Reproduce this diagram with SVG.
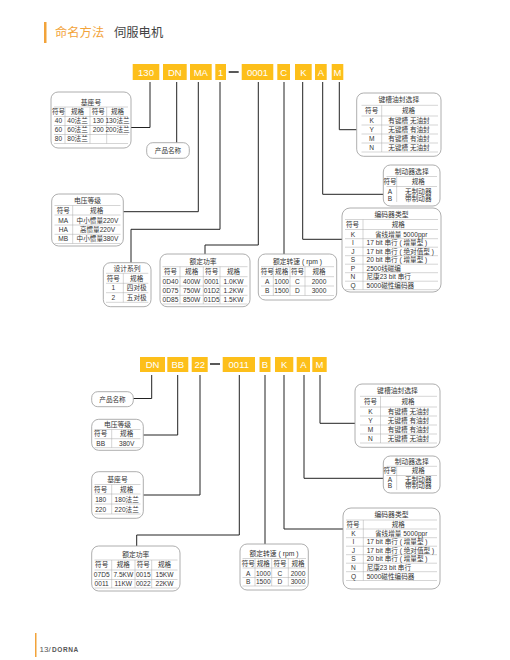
<svg xmlns="http://www.w3.org/2000/svg" width="510" height="660" viewBox="0 0 510 660">
<style>
text{font-family:"Liberation Sans","Noto Sans CJK SC",sans-serif}
.bx{fill:#fff;stroke:#999;stroke-width:0.8}
.gl{stroke:#aaa;stroke-width:0.5;fill:none}
.t{font-size:6.6px;fill:#333;text-anchor:middle}
.tl{font-size:6.6px;fill:#333;text-anchor:start}
.hd{font-size:6.8px;fill:#333;text-anchor:middle}
.cb{fill:#FDBF1A}
.ct{font-size:9.5px;fill:#fff;text-anchor:middle}
.ln{stroke:#222;stroke-width:1;fill:none}
</style>
<rect width="510" height="660" fill="#fff"/>
<g id="header">
<rect x="44" y="22" width="2.5" height="21" fill="#F2A33A"/>
<text x="55" y="37" style="font-size:12.3px;fill:#F2A33A">命名方法</text>
<text x="114" y="37" style="font-size:12.3px;fill:#444">伺服电机</text>
</g>

<!-- TOP CODE ROW -->
<g id="code-top">
<rect class="cb" x="132.7" y="64" width="26.6" height="16"/><text class="ct" x="146" y="75.5">130</text>
<rect class="cb" x="163" y="64" width="23.7" height="16"/><text class="ct" x="174.8" y="75.5">DN</text>
<rect class="cb" x="190" y="64" width="21.7" height="16"/><text class="ct" x="200.8" y="75.5">MA</text>
<rect class="cb" x="215.3" y="64" width="10.7" height="16"/><text class="ct" x="220.7" y="75.5">1</text>
<line x1="228.7" y1="72" x2="238.7" y2="72" stroke="#222" stroke-width="1.5"/>
<rect class="cb" x="241.7" y="64" width="31.6" height="16"/><text class="ct" x="257.5" y="75.5">0001</text>
<rect class="cb" x="277.3" y="64" width="12.7" height="16"/><text class="ct" x="283.7" y="75.5">C</text>
<rect class="cb" x="295" y="64" width="16.7" height="16"/><text class="ct" x="303.3" y="75.5">K</text>
<rect class="cb" x="315" y="64" width="11.7" height="16"/><text class="ct" x="320.8" y="75.5">A</text>
<rect class="cb" x="331.7" y="64" width="11.6" height="16"/><text class="ct" x="337.5" y="75.5">M</text>
</g>

<g id="connectors">
<!-- top -->
<polyline class="ln" points="150,82 150,127.5 131,127.5"/>
<polyline class="ln" points="176.7,82 176.7,142.7"/>
<polyline class="ln" points="198.3,82 198.3,211.7 123.3,211.7"/>
<polyline class="ln" points="220,82 220,229.3 131,229.3 131,262.7"/>
<polyline class="ln" points="258.3,82 258.3,245 205,245 205,254"/>
<polyline class="ln" points="284,82 284,254"/>
<polyline class="ln" points="302.7,82 302.7,239.3 342,239.3"/>
<polyline class="ln" points="322.7,82 322.7,194.3 383.3,194.3"/>
<polyline class="ln" points="339.3,82 339.3,129.7 356.7,129.7"/>
<!-- bottom -->
<polyline class="ln" points="151.7,375 151.7,398.5 133.3,398.5"/>
<polyline class="ln" points="177.7,375 177.7,435 143.3,435"/>
<polyline class="ln" points="200,375 200,495 143.3,495"/>
<polyline class="ln" points="239.3,375 239.3,535 136.7,535 136.7,546"/>
<polyline class="ln" points="265,375 265,544"/>
<polyline class="ln" points="284,375 284,529 343,529"/>
<polyline class="ln" points="304,375 304,478.3 383.3,478.3"/>
<polyline class="ln" points="320,375 320,423.3 355,423.3"/>
</g>

<!-- 基座号 top -->
<g id="base-top">
<rect class="bx" x="51" y="92" width="80" height="56" rx="7"/>
<text class="hd" x="91" y="105">基座号</text>
<path class="gl" d="M54,107H128M54,116.5H128M54,125.5H128M54,134.5H128M54,143.5H128M65,107V143.5M90,107V143.5M106.7,107V143.5"/>
<text class="t" x="58.5" y="114.3">符号</text><text class="t" x="77.5" y="114.3">规格</text><text class="t" x="98.3" y="114.3">符号</text><text class="t" x="117.5" y="114.3">规格</text>
<text class="t" x="58.5" y="123.3">40</text><text class="t" x="77.5" y="123.3">40法兰</text><text class="t" x="98.3" y="123.3">130</text><text class="t" x="117.5" y="123.3">130法兰</text>
<text class="t" x="58.5" y="132.3">60</text><text class="t" x="77.5" y="132.3">60法兰</text><text class="t" x="98.3" y="132.3">200</text><text class="t" x="117.5" y="132.3">200法兰</text>
<text class="t" x="58.5" y="141.3">80</text><text class="t" x="77.5" y="141.3">80法兰</text>
</g>

<g id="product-top">
<rect class="bx" x="146.7" y="142.7" width="42.6" height="15.6" rx="6"/>
<text class="t" x="168" y="152.8">产品名称</text>
</g>

<g id="voltage-top">
<rect class="bx" x="51.7" y="194" width="71.6" height="52" rx="7"/>
<text class="hd" x="87.5" y="203">电压等级</text>
<path class="gl" d="M54.5,205.5H120.5M54.5,215H120.5M54.5,225H120.5M54.5,234.3H120.5M54.5,243.5H120.5M72.7,205.5V243.5"/>
<text class="t" x="63.3" y="213">符号</text><text class="t" x="96.7" y="213">规格</text>
<text class="t" x="63.3" y="222.7">MA</text><text class="t" x="97.5" y="222.7">中小惯量220V</text>
<text class="t" x="63.3" y="231.8">HA</text><text class="t" x="97.5" y="231.8">高惯量220V</text>
<text class="t" x="63.3" y="241.2">MB</text><text class="t" x="97.5" y="241.2">中小惯量380V</text>
</g>

<g id="series-top">
<rect class="bx" x="103.3" y="262.7" width="47.7" height="44" rx="7"/>
<text class="hd" x="127" y="270.6">设计系列</text>
<path class="gl" d="M106,273.3H148.3M106,283.3H148.3M106,292.7H148.3M106,302.3H148.3M123.3,273.3V302.3"/>
<text class="t" x="113.3" y="280.6">符号</text><text class="t" x="136.7" y="280.6">规格</text>
<text class="t" x="113.3" y="290.3">1</text><text class="t" x="136.7" y="290.3">四对极</text>
<text class="t" x="113.3" y="299.8">2</text><text class="t" x="136.7" y="299.8">五对极</text>
</g>

<g id="power-top">
<rect class="bx" x="160" y="254" width="90" height="52.7" rx="7"/>
<text class="hd" x="203" y="264">额定功率</text>
<path class="gl" d="M162.5,266.7H247.5M162.5,276.7H247.5M162.5,286H247.5M162.5,295.3H247.5M162.5,304H247.5M180,266.7V304M203.3,266.7V304M220,266.7V304"/>
<text class="t" x="170.5" y="274">符号</text><text class="t" x="191.7" y="274">规格</text><text class="t" x="211.7" y="274">符号</text><text class="t" x="233.5" y="274">规格</text>
<text class="t" x="170.5" y="283.6">0D40</text><text class="t" x="191.7" y="283.6">400W</text><text class="t" x="211.7" y="283.6">0001</text><text class="t" x="233.5" y="283.6">1.0KW</text>
<text class="t" x="170.5" y="293">0D75</text><text class="t" x="191.7" y="293">750W</text><text class="t" x="211.7" y="293">01D2</text><text class="t" x="233.5" y="293">1.2KW</text>
<text class="t" x="170.5" y="302">0D85</text><text class="t" x="191.7" y="302">850W</text><text class="t" x="211.7" y="302">01D5</text><text class="t" x="233.5" y="302">1.5KW</text>
</g>

<g id="speed-top">
<rect class="bx" x="258.3" y="254" width="78.4" height="46" rx="7"/>
<text class="hd" x="297.5" y="264">额定转速 ( rpm )</text>
<path class="gl" d="M261,266.7H334M261,276.7H334M261,286H334M261,295.5H334M273.3,266.7V295.5M290,266.7V295.5M305,266.7V295.5"/>
<text class="t" x="267.3" y="274">符号</text><text class="t" x="281.7" y="274">规格</text><text class="t" x="297.5" y="274">符号</text><text class="t" x="319" y="274">规格</text>
<text class="t" x="267.3" y="284">A</text><text class="t" x="281.7" y="284">1000</text><text class="t" x="297.5" y="284">C</text><text class="t" x="319" y="284">2000</text>
<text class="t" x="267.3" y="293.3">B</text><text class="t" x="281.7" y="293.3">1500</text><text class="t" x="297.5" y="293.3">D</text><text class="t" x="319" y="293.3">3000</text>
</g>

<g id="seal-top">
<rect class="bx" x="356.7" y="93" width="84.3" height="63.3" rx="7"/>
<text class="hd" x="398.8" y="102">键槽油封选择</text>
<path class="gl" d="M361.5,105.3H438M361.5,116H438M361.5,125H438M361.5,134H438M361.5,143H438M361.5,152H438M381.7,105.3V152"/>
<text class="t" x="371.7" y="113.3">符号</text><text class="t" x="408.5" y="113.3">规格</text>
<text class="t" x="371.7" y="122.8">K</text><text class="t" x="409" y="122.8">有键槽 无油封</text>
<text class="t" x="371.7" y="131.8">Y</text><text class="t" x="409" y="131.8">无键槽 有油封</text>
<text class="t" x="371.7" y="140.8">M</text><text class="t" x="409" y="140.8">有键槽 有油封</text>
<text class="t" x="371.7" y="149.8">N</text><text class="t" x="409" y="149.8">无键槽 无油封</text>
</g>

<g id="brake-top">
<rect class="bx" x="383.3" y="165" width="56.7" height="41" rx="7"/>
<text class="hd" x="411.7" y="173.5">制动器选择</text>
<path class="gl" d="M386.5,176.5H437M386.5,186.5H437M396.7,176.5V202"/>
<text class="t" x="390" y="184">符号</text><text class="t" x="418.3" y="184">规格</text>
<text class="t" x="390" y="193.6">A</text><text class="t" x="418.3" y="193.6">无制动器</text>
<text class="t" x="390" y="200.6">B</text><text class="t" x="418.3" y="200.6">带制动器</text>
</g>

<g id="encoder-top">
<rect class="bx" x="342" y="208" width="99" height="84" rx="8"/>
<text class="hd" x="391.5" y="216.8">编码器类型</text>
<path class="gl" d="M345,219.5H438M345,229.5H438M345,238.7H438M345,247.2H438M345,255.7H438M345,264.2H438M345,272.7H438M345,281.2H438M345,289.7H438M363,219.5V289.7"/>
<text class="t" x="352.5" y="227.3">符号</text><text class="t" x="398.3" y="227.3">规格</text>
<text class="t" x="353" y="236.8">K</text><text class="tl" x="375" y="236.8">省线增量 5000ppr</text>
<text class="t" x="353" y="245.3">I</text><text class="tl" x="366.5" y="245.3">17 bit 串行 ( 增量型 )</text>
<text class="t" x="353" y="253.8">J</text><text class="tl" x="366.5" y="253.8">17 bit 串行 ( 绝对值型 )</text>
<text class="t" x="353" y="262.3">S</text><text class="tl" x="366.5" y="262.3">20 bit 串行 ( 增量型 )</text>
<text class="t" x="353" y="270.8">P</text><text class="tl" x="366.5" y="270.8">2500线磁编</text>
<text class="t" x="353" y="279.3">N</text><text class="tl" x="366.5" y="279.3">尼康23 bit 串行</text>
<text class="t" x="353" y="287.8">Q</text><text class="tl" x="366.5" y="287.8">5000磁性编码器</text>
</g>

<!-- BOTTOM CODE ROW -->
<g id="code-bottom">
<rect class="cb" x="140" y="357" width="25" height="15"/><text class="ct" x="152.5" y="368">DN</text>
<rect class="cb" x="167.3" y="357" width="21" height="15"/><text class="ct" x="177.8" y="368">BB</text>
<rect class="cb" x="191.7" y="357" width="16" height="15"/><text class="ct" x="199.7" y="368">22</text>
<line x1="210" y1="364" x2="220" y2="364" stroke="#222" stroke-width="1.5"/>
<rect class="cb" x="222.7" y="357" width="32.3" height="15"/><text class="ct" x="238.8" y="368">0011</text>
<rect class="cb" x="259.5" y="357" width="11" height="15"/><text class="ct" x="265" y="368">B</text>
<rect class="cb" x="275" y="357" width="18.3" height="15"/><text class="ct" x="284.2" y="368">K</text>
<rect class="cb" x="296.7" y="357" width="13.3" height="15"/><text class="ct" x="303.3" y="368">A</text>
<rect class="cb" x="312.3" y="357" width="14.4" height="15"/><text class="ct" x="319.5" y="368">M</text>
</g>

<g id="product-bottom">
<rect class="bx" x="91.7" y="391.7" width="41.6" height="15" rx="6"/>
<text class="t" x="112.5" y="401.5">产品名称</text>
</g>

<g id="voltage-bottom">
<rect class="bx" x="91.7" y="419.3" width="51.6" height="31" rx="7"/>
<text class="hd" x="117.5" y="427.3">电压等级</text>
<path class="gl" d="M94.5,429.5H140.5M94.5,438.7H140.5M94.5,447.7H140.5M111.7,429.5V447.7"/>
<text class="t" x="100.7" y="436.3">符号</text><text class="t" x="126.7" y="436.3">规格</text>
<text class="t" x="100.7" y="445.6">BB</text><text class="t" x="126.7" y="445.6">380V</text>
</g>

<g id="base-bottom">
<rect class="bx" x="91.7" y="471.7" width="51.6" height="46.6" rx="7"/>
<text class="hd" x="117.5" y="482.3">基座号</text>
<path class="gl" d="M94.5,484.5H140.5M94.5,494H140.5M94.5,504H140.5M94.5,514H140.5M111.7,484.5V514"/>
<text class="t" x="100.7" y="491.6">符号</text><text class="t" x="126.7" y="491.6">规格</text>
<text class="t" x="100.7" y="501.6">180</text><text class="t" x="126.7" y="501.6">180法兰</text>
<text class="t" x="100.7" y="511.6">220</text><text class="t" x="126.7" y="511.6">220法兰</text>
</g>

<g id="power-bottom">
<rect class="bx" x="91.7" y="546" width="88.3" height="45" rx="7"/>
<text class="hd" x="135.8" y="557.3">额定功率</text>
<path class="gl" d="M94.5,560H177.5M94.5,570H177.5M94.5,579.5H177.5M94.5,588H177.5M111.7,560V588M135,560V588M151.7,560V588"/>
<text class="t" x="101.7" y="567.3">符号</text><text class="t" x="123.3" y="567.3">规格</text><text class="t" x="143.3" y="567.3">符号</text><text class="t" x="164.5" y="567.3">规格</text>
<text class="t" x="101.7" y="577.2">07D5</text><text class="t" x="123.3" y="577.2">7.5KW</text><text class="t" x="143.3" y="577.2">0015</text><text class="t" x="164.5" y="577.2">15KW</text>
<text class="t" x="101.7" y="586">0011</text><text class="t" x="123.3" y="586">11KW</text><text class="t" x="143.3" y="586">0022</text><text class="t" x="164.5" y="586">22KW</text>
</g>

<g id="speed-bottom">
<rect class="bx" x="240" y="544" width="68.3" height="46" rx="7"/>
<text class="hd" x="274" y="555.6">额定转速 ( rpm )</text>
<path class="gl" d="M242.5,558.5H306M242.5,568H306M242.5,577.5H306M242.5,586H306M255,558.5V586M271.7,558.5V586M288.3,558.5V586"/>
<text class="t" x="248.3" y="565.6">符号</text><text class="t" x="263.3" y="565.6">规格</text><text class="t" x="280" y="565.6">符号</text><text class="t" x="298" y="565.6">规格</text>
<text class="t" x="248.3" y="575.6">A</text><text class="t" x="263.3" y="575.6">1000</text><text class="t" x="280" y="575.6">C</text><text class="t" x="298" y="575.6">2000</text>
<text class="t" x="248.3" y="584">B</text><text class="t" x="263.3" y="584">1500</text><text class="t" x="280" y="584">D</text><text class="t" x="298" y="584">3000</text>
</g>

<g id="seal-bottom">
<rect class="bx" x="355" y="384" width="85" height="63.3" rx="7"/>
<text class="hd" x="397.5" y="393">键槽油封选择</text>
<path class="gl" d="M360,396.3H437M360,407H437M360,416H437M360,425H437M360,434H437M360,443H437M380.5,396.3V443"/>
<text class="t" x="370.5" y="404.3">符号</text><text class="t" x="408" y="404.3">规格</text>
<text class="t" x="370.5" y="413.8">K</text><text class="t" x="408.5" y="413.8">有键槽 无油封</text>
<text class="t" x="370.5" y="422.8">Y</text><text class="t" x="408.5" y="422.8">无键槽 有油封</text>
<text class="t" x="370.5" y="431.8">M</text><text class="t" x="408.5" y="431.8">有键槽 有油封</text>
<text class="t" x="370.5" y="440.8">N</text><text class="t" x="408.5" y="440.8">无键槽 无油封</text>
</g>

<g id="brake-bottom">
<rect class="bx" x="383.3" y="456" width="56.7" height="37" rx="7"/>
<text class="hd" x="411.7" y="463.8">制动器选择</text>
<path class="gl" d="M386.5,466.3H437M386.5,475.5H437M396.7,466.3V490"/>
<text class="t" x="390" y="473">符号</text><text class="t" x="418.3" y="473">规格</text>
<text class="t" x="390" y="481.6">A</text><text class="t" x="418.3" y="481.6">无制动器</text>
<text class="t" x="390" y="488.4">B</text><text class="t" x="418.3" y="488.4">带制动器</text>
</g>

<g id="encoder-bottom">
<rect class="bx" x="343" y="508" width="97" height="81" rx="8"/>
<text class="hd" x="391.5" y="517.3">编码器类型</text>
<path class="gl" d="M346,520H437M346,529H437M346,537.7H437M346,546.2H437M346,554.7H437M346,563.2H437M346,571.7H437M346,580.5H437M363.3,520V580.5"/>
<text class="t" x="353" y="526.6">符号</text><text class="t" x="398.3" y="526.6">规格</text>
<text class="t" x="353.5" y="535.8">K</text><text class="tl" x="375" y="535.8">省线增量 5000ppr</text>
<text class="t" x="353.5" y="544.3">I</text><text class="tl" x="366.7" y="544.3">17 bit 串行 ( 增量型 )</text>
<text class="t" x="353.5" y="552.8">J</text><text class="tl" x="366.7" y="552.8">17 bit 串行 ( 绝对值型 )</text>
<text class="t" x="353.5" y="561.3">S</text><text class="tl" x="366.7" y="561.3">20 bit 串行 ( 增量型 )</text>
<text class="t" x="353.5" y="569.8">N</text><text class="tl" x="366.7" y="569.8">尼康23 bit 串行</text>
<text class="t" x="353.5" y="578.5">Q</text><text class="tl" x="366.7" y="578.5">5000磁性编码器</text>
</g>

<g id="footer">
<rect x="35" y="633" width="1.5" height="24" fill="#F2A33A"/>
<text x="39.5" y="651.5" style="font-size:8px;fill:#555">13/</text>
<text x="52" y="651.5" style="font-size:6.5px;font-weight:bold;fill:#555;letter-spacing:0.6px">DORNA</text>
</g>
</svg>
